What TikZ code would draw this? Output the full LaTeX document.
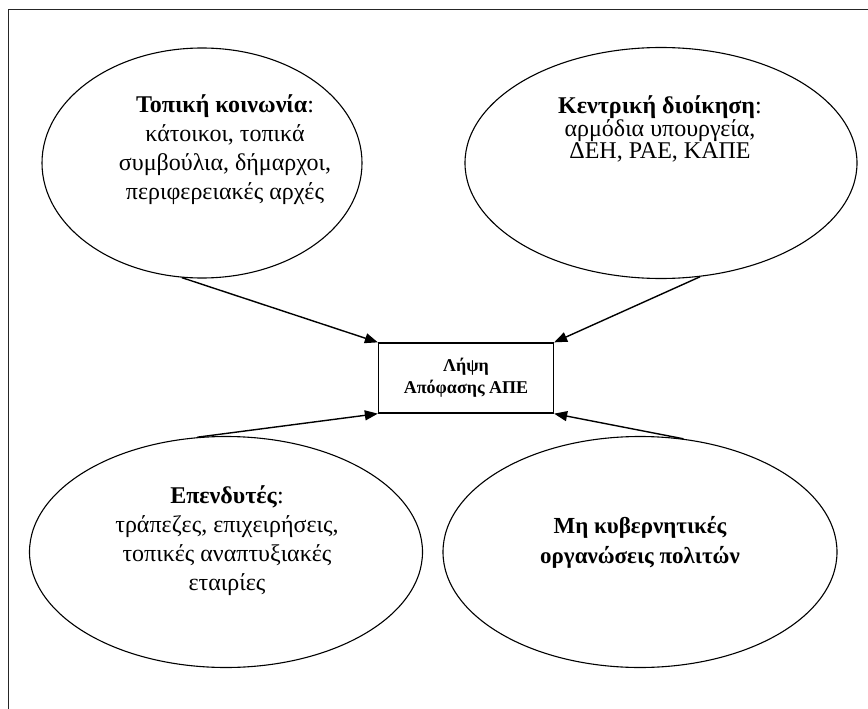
\documentclass[tikz,border=0pt]{standalone}
\usepackage{fontspec}
\setmainfont{Liberation Serif}
\usetikzlibrary{arrows.meta,shapes.geometric}
\tikzset{%
  group/.style={draw,ellipse,inner sep=0pt,line width=1.1pt},
  grouptext/.style={align=center,inner sep=0pt},
  arrow/.style={-{Triangle[length=13pt,width=10pt]}, line width=1.4pt}%
}

\begin{document}
\begin{tikzpicture}[
    x=1pt,
    y=-1pt,
    font=\fontsize{24}{29}\selectfont,
    decision/.style={
        draw,
        align=center,
        minimum width=175pt,
        minimum height=70pt,
        line width=1.3pt,
        font=\fontsize{18}{22}\selectfont\bfseries
    }
]
\useasboundingbox (0,0) rectangle (868,709);

% Frame (only top and left edges are inside the page)
\draw[line width=1.8pt, black!85] (8.5,709) -- (8.5,9.5) -- (868,9.5);

% Nodes
\node[decision] (decision) at (466,378) {Λήψη\\Απόφασης ΑΠΕ};

\node[group, minimum width=320pt, minimum height=230pt] (local) at (202,163) {};
\node[grouptext] (local text) at (225,150)
  {\textbf{Τοπική κοινωνία}:\\κάτοικοι, τοπικά\\συμβούλια, δήμαρχοι,\\περιφερειακές αρχές};

\node[group, minimum width=392pt, minimum height=231pt] (central) at (661,163) {};
\node[grouptext, font=\fontsize{24}{22}\selectfont] (central text) at (660,129)
  {\textbf{Κεντρική διοίκηση}:\\αρμόδια υπουργεία,\\ΔΕΗ, ΡΑΕ, ΚΑΠΕ};

\node[group, minimum width=393pt, minimum height=231pt] (investors) at (226,552) {};
\node[grouptext] (investors text) at (227,541)
  {\textbf{Επενδυτές}:\\τράπεζες, επιχειρήσεις,\\τοπικές αναπτυξιακές\\εταιρίες};

\node[group, minimum width=394pt, minimum height=231pt] (ngo) at (640,552) {};
\node[grouptext, font=\fontsize{23}{30}\selectfont\bfseries] (ngo text) at (640,542)
  {Μη κυβερνητικές\\οργανώσεις πολιτών};

% Arrows
\draw[arrow] (local.260) -- (decision.north west);
\draw[arrow] (central.289) -- (decision.north east);
\draw[arrow] (investors.104) -- (decision.south west);
\draw[arrow] (ngo.69) -- (decision.south east);

\end{tikzpicture}
\end{document}
